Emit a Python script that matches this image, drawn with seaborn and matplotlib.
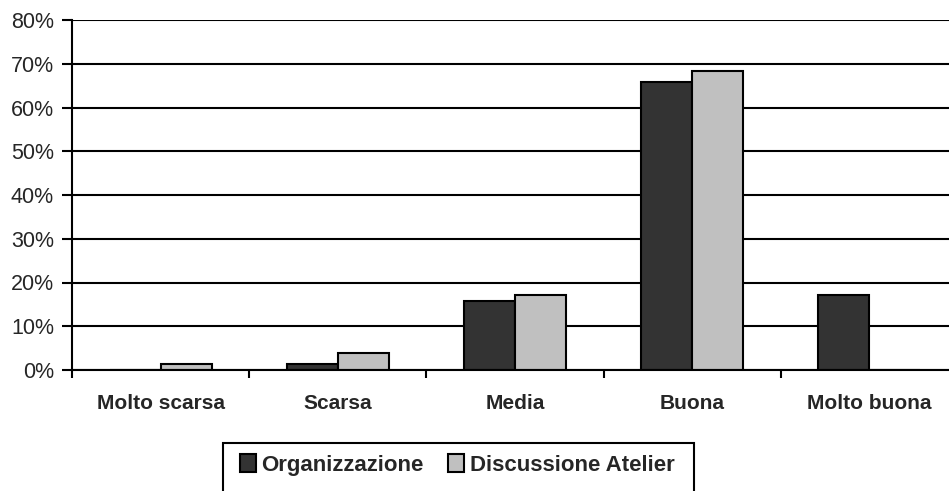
import matplotlib
matplotlib.use("Agg")
import matplotlib.pyplot as plt
import seaborn as sns
import pandas as pd
import numpy as np
from matplotlib.ticker import FixedLocator, FuncFormatter
from matplotlib.patches import Rectangle

categories = ["Molto scarsa", "Scarsa", "Media", "Buona", "Molto buona"]
series_names = ["Organizzazione", "Discussione Atelier"]
organizzazione = [0.0, 1.3, 15.8, 65.8, 17.1]
discussione = [1.3, 3.9, 17.1, 68.4, 0.0]
y_ticks = [0, 10, 20, 30, 40, 50, 60, 70, 80]
colors = ["#333333", "#c0c0c0"]

df = pd.DataFrame({
    "cat": categories * 2,
    "val": organizzazione + discussione,
    "serie": [series_names[0]] * 5 + [series_names[1]] * 5,
})

sns.set_style("white")
plt.rcParams["font.family"] = ["Liberation Sans", "DejaVu Sans"]

W, H = 949, 491
fig = plt.figure(figsize=(9.49, 4.91), dpi=100)
ax = fig.add_axes([72/W, 1-370/H, (958-72)/W, 350/H])

sns.barplot(data=df, x="cat", y="val", hue="serie", palette=colors,
            width=0.576, edgecolor="black", linewidth=1.5, ax=ax,
            order=categories, hue_order=series_names, saturation=1)

ax.set_ylim(0, 80)
ax.set_xlim(-0.5, 4.5)
ax.set_yticks(y_ticks)
ax.yaxis.set_major_formatter(FuncFormatter(lambda v, p: f"{int(v)}%"))
ax.grid(axis="y", color="black", linewidth=1.5)
ax.set_axisbelow(True)
for s in ["top", "right"]:
    ax.spines[s].set_visible(False)
for s in ["left", "bottom"]:
    ax.spines[s].set_color("black")
    ax.spines[s].set_linewidth(1.5)
ax.set_xlabel("")
ax.set_ylabel("")
ax.tick_params(axis="y", direction="out", length=7, width=1.5, color="black",
               labelsize=15.5, pad=6, left=True)
ax.tick_params(axis="x", which="major", length=0, labelsize=15, pad=17)
ax.xaxis.set_minor_locator(FixedLocator(np.arange(-0.5, 5.0, 1.0)))
ax.tick_params(axis="x", which="minor", direction="out", length=6, width=1.5,
               color="black", bottom=True)
for lab in ax.get_xticklabels():
    lab.set_fontweight("bold")

handles, labels = ax.get_legend_handles_labels()
ax.get_legend().remove()
leg = fig.legend(handles, labels, loc="upper left",
                 bbox_to_anchor=(240/W, 1-454/H), ncol=2,
                 frameon=False,
                 prop={"weight": "bold", "size": 16},
                 handlelength=0.72, handleheight=0.85, handletextpad=0.25,
                 columnspacing=1.1, borderpad=0, borderaxespad=0)
fig.patches.append(Rectangle((223/W, 1-500/H), (694-223)/W, 57/H,
                             transform=fig.transFigure, fill=False,
                             edgecolor="black", linewidth=1.5))

fig.savefig("out.png", dpi=100)
